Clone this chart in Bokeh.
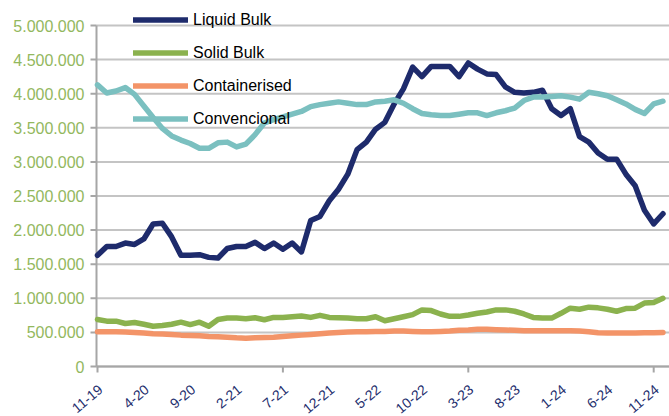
import math
from bokeh.plotting import figure
from bokeh.models import Range1d, Legend, LegendItem, ColumnDataSource
from bokeh.core.properties import value
from bokeh.embed import file_html
from bokeh.resources import INLINE

# Monthly values, 11-19 .. 12-24 (62 months), in millions of tonnes
liquid_bulk = [1.63, 1.76, 1.76, 1.81, 1.79, 1.87, 2.09, 2.10, 1.90, 1.63,
               1.63, 1.64, 1.60, 1.59, 1.73, 1.76, 1.76, 1.82, 1.73, 1.81,
               1.72, 1.81, 1.68, 2.14, 2.20, 2.43, 2.60, 2.82, 3.18, 3.29,
               3.48, 3.58, 3.85, 4.07, 4.39, 4.25, 4.40, 4.40, 4.40, 4.25,
               4.45, 4.36, 4.29, 4.28, 4.10, 4.02, 4.01, 4.02, 4.05, 3.78,
               3.68, 3.78, 3.37, 3.29, 3.13, 3.04, 3.04, 2.82, 2.65, 2.29,
               2.09, 2.24]
solid_bulk = [0.69, 0.665, 0.665, 0.63, 0.645, 0.62, 0.59, 0.60, 0.62, 0.65,
              0.615, 0.65, 0.59, 0.69, 0.71, 0.71, 0.70, 0.715, 0.685, 0.72,
              0.72, 0.73, 0.74, 0.72, 0.75, 0.72, 0.715, 0.71, 0.70, 0.70,
              0.73, 0.67, 0.70, 0.73, 0.76, 0.83, 0.82, 0.77, 0.735, 0.735,
              0.755, 0.78, 0.80, 0.83, 0.83, 0.81, 0.77, 0.72, 0.71, 0.71,
              0.78, 0.855, 0.84, 0.87, 0.86, 0.84, 0.81, 0.85, 0.855, 0.93,
              0.94, 1.00]
containerised = [0.51, 0.51, 0.51, 0.505, 0.50, 0.49, 0.48, 0.475, 0.47, 0.46,
                 0.455, 0.45, 0.44, 0.435, 0.43, 0.42, 0.415, 0.42, 0.425, 0.43,
                 0.44, 0.45, 0.46, 0.47, 0.48, 0.49, 0.50, 0.505, 0.51, 0.51,
                 0.515, 0.515, 0.52, 0.52, 0.515, 0.51, 0.51, 0.515, 0.52, 0.53,
                 0.535, 0.545, 0.545, 0.54, 0.535, 0.53, 0.525, 0.525, 0.525, 0.525,
                 0.525, 0.525, 0.52, 0.51, 0.495, 0.49, 0.49, 0.49, 0.49, 0.495,
                 0.495, 0.50]
convencional = [4.13, 4.01, 4.04, 4.09, 3.99, 3.82, 3.65, 3.49, 3.38, 3.32,
                3.27, 3.20, 3.20, 3.28, 3.29, 3.22, 3.26, 3.40, 3.57, 3.62,
                3.66, 3.70, 3.74, 3.81, 3.84, 3.86, 3.88, 3.86, 3.84, 3.84,
                3.88, 3.89, 3.91, 3.86, 3.78, 3.71, 3.69, 3.68, 3.68, 3.70,
                3.72, 3.72, 3.68, 3.72, 3.75, 3.79, 3.90, 3.95, 3.95, 3.96,
                3.97, 3.95, 3.92, 4.02, 4.00, 3.97, 3.91, 3.85, 3.77, 3.71,
                3.85, 3.89]

x_tick_labels = ["11-19", "4-20", "9-20", "2-21", "7-21", "12-21", "5-22",
                 "10-22", "3-23", "8-23", "1-24", "6-24", "11-24"]
y_tick_values = [0, 500000, 1000000, 1500000, 2000000, 2500000, 3000000,
                 3500000, 4000000, 4500000, 5000000]
y_tick_labels = ["0", "500.000", "1.000.000", "1.500.000", "2.000.000",
                 "2.500.000", "3.000.000", "3.500.000", "4.000.000",
                 "4.500.000", "5.000.000"]

series_names = ["Liquid Bulk", "Solid Bulk", "Containerised", "Convencional"]
series_colors = ["#1E2B6C", "#8BB24E", "#F39468", "#7BC0C0"]

n = len(liquid_bulk)
src = ColumnDataSource(dict(
    x=list(range(n)),
    liquid=[v * 1e6 for v in liquid_bulk],
    solid=[v * 1e6 for v in solid_bulk],
    cont=[v * 1e6 for v in containerised],
    conv=[v * 1e6 for v in convencional],
))

FONT = "Liberation Sans"
AXIS_GRAY = "#A6A6A6"
GRID_GRAY = "#C4C4C4"

W, H = 669, 416
# Layout of the chart area inside the canvas (pixels)
PX_PER_MONTH = 9.27
FIRST_MONTH_PX = 97          # x pixel of the first month
AXIS_PX = 96                 # x pixel of the value axis line
ZERO_PX = 366                # y pixel (from top) of value 0
TOP_PX = 25                  # y pixel (from top) of the highest tick
Y_MAX = y_tick_values[-1]
Y_PER_PX = Y_MAX / (ZERO_PX - TOP_PX)

X_START = -FIRST_MONTH_PX / PX_PER_MONTH
X_END = (W - FIRST_MONTH_PX) / PX_PER_MONTH
X_AXIS = (AXIS_PX - FIRST_MONTH_PX) / PX_PER_MONTH
Y_START = -(H - ZERO_PX) * Y_PER_PX
Y_END = ZERO_PX * Y_PER_PX

p = figure(width=W, height=H, output_backend="svg", toolbar_location=None,
           x_range=Range1d(X_START, X_END), y_range=Range1d(Y_START, Y_END),
           x_axis_location=None, y_axis_location=None,
           min_border_left=0, min_border_right=0, min_border_top=0,
           min_border_bottom=0)
p.outline_line_color = None
p.background_fill_color = "white"
p.border_fill_color = "white"
p.xgrid.visible = False
p.ygrid.visible = False

ny = len(y_tick_values)
# horizontal gridlines
p.segment(x0=[X_AXIS] * ny, y0=y_tick_values, x1=[X_END] * ny, y1=y_tick_values,
          line_color=GRID_GRAY, line_width=2)

# value axis: line, ticks, labels
p.segment(x0=[X_AXIS], y0=[0], x1=[X_AXIS], y1=[Y_MAX],
          line_color=AXIS_GRAY, line_width=2)
p.ray(x=[X_AXIS] * ny, y=y_tick_values, length=6, length_units="screen",
      angle=math.pi, line_color=AXIS_GRAY, line_width=2)
p.text(x=[X_AXIS] * ny, y=y_tick_values, text=y_tick_labels,
       x_offset=-12, text_align="right", text_baseline="middle",
       text_font=value(FONT), text_font_size="16px", text_color="#93B85E")

# category axis: line at 0, tick marks every 20 months, labels every 5 months
label_pos = list(range(0, 5 * len(x_tick_labels), 5))
tick_pos = label_pos[::4]
p.segment(x0=[X_AXIS], y0=[0], x1=[X_END], y1=[0],
          line_color=AXIS_GRAY, line_width=2)
p.ray(x=tick_pos, y=[0] * len(tick_pos), length=6, length_units="screen",
      angle=-math.pi / 2, line_color=AXIS_GRAY, line_width=2)
p.text(x=label_pos, y=[0] * len(label_pos), text=x_tick_labels,
       angle=math.radians(40), text_align="right", text_baseline="middle",
       x_offset=3, y_offset=21, text_font=value(FONT),
       text_font_size="14px", text_color="#1F2F6E")

# data series
renderers = []
for col, color in zip(["liquid", "solid", "cont", "conv"], series_colors):
    r = p.line("x", col, source=src, line_color=color, line_width=5.5,
               line_join="round", line_cap="round")
    renderers.append(r)

legend = Legend(
    items=[LegendItem(label=nm, renderers=[r]) for nm, r in zip(series_names, renderers)],
    location=(133, 281), orientation="vertical",
    glyph_width=55, glyph_height=33, label_height=33, spacing=0,
    padding=0, margin=0, label_standoff=5,
    border_line_color=None, background_fill_alpha=0,
    label_text_font=FONT, label_text_font_size="16px", label_text_color="black",
)
p.add_layout(legend, "center")

open("out.html", "w").write(file_html(p, INLINE))
